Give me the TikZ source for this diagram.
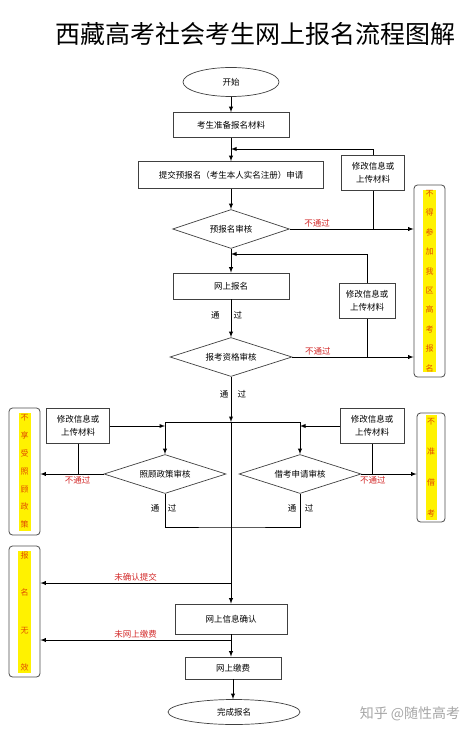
\documentclass[tikz,border=0pt]{standalone}
\usepackage{fontspec}
\setmainfont{Noto Sans CJK SC}
\usepackage{tikz}
\usetikzlibrary{shapes.geometric,calc,positioning}
\definecolor{failred}{RGB}{210,40,40}
\definecolor{stripred}{RGB}{225,75,0}

\begin{document}
\begin{tikzpicture}[x=1pt,y=-1pt,
	font=\fontsize{8.5}{13}\selectfont,
	box/.style={draw=black!75, line width=0.7pt, rectangle, inner sep=1pt, align=center},
	chk/.style={draw=black!75, line width=0.7pt, diamond, aspect=3, inner sep=1pt},
	term/.style={draw=black!75, line width=0.7pt, ellipse, inner sep=0pt},
	outcome/.style={draw=black!70, line width=0.8pt, rounded corners=3.5pt, inner sep=0pt},
	strip/.style={fill=yellow, text=stripred, inner sep=0pt, align=center, font=\fontsize{8}{#1}\selectfont},
	flow/.style={-latex, line width=0.9pt},
	plain/.style={line width=0.9pt},
	fail/.style={text=failred, inner sep=1.5pt, font=\fontsize{8.5}{10}\selectfont},
	pass/.style={inner sep=0pt}]
	\useasboundingbox (0,0) rectangle (474,735);
	\node[font=\fontsize{25}{28}\selectfont] (title) at (255,34) {西藏高考社会考生网上报名流程图解};
	\node[term, minimum width=96pt, minimum height=29pt] (start) at (231,82) {开始};
	\node[box, minimum width=116pt, minimum height=25pt] (prep) at (231,125) {考生准备报名材料};
	\node[box, minimum width=185pt, minimum height=27pt] (submit) at (231,175) {提交预报名（考生本人实名注册）申请};
	\node[box, minimum width=63pt, minimum height=35pt] (mod1) at (373,173) {修改信息或\\上传材料};
	\node[chk, minimum width=117pt, minimum height=39pt] (chk1) at (231,229) {预报名审核};
	\node[box, minimum width=116pt, minimum height=26pt] (net) at (231,286) {网上报名};
	\node[box, minimum width=56pt, minimum height=35pt] (mod2) at (367,301) {修改信息或\\上传材料};
	\node[chk, minimum width=122pt, minimum height=39pt] (chk2) at (231,357) {报考资格审核};
	\node[outcome, minimum width=31pt, minimum height=192pt] (noReg) at (429.5,281) {};
	\node[strip=19.4, minimum width=13pt, minimum height=181pt] (noRegTxt) at (noReg.center) {不\\得\\参\\加\\我\\区\\高\\考\\报\\名};

	\coordinate (fb1) at (231,149);
	\coordinate (fb2) at (231,254);
	\coordinate (jl) at (165,422);
	\coordinate (jc) at (231,422);
	\coordinate (jr) at (300,422);
	\coordinate (jb) at (231,527);
	\node[box, minimum width=63pt, minimum height=35pt] (mod3) at (78,426) {修改信息或\\上传材料};
	\node[box, minimum width=64pt, minimum height=35pt] (mod4) at (372,426) {修改信息或\\上传材料};
	\node[chk, minimum width=122pt, minimum height=39pt] (chkL) at (165,474) {照顾政策审核};
	\node[chk, minimum width=122pt, minimum height=39pt] (chkR) at (300,474) {借考申请审核};
	\node[outcome, minimum width=31pt, minimum height=127pt] (noPolicy) at (24.5,471.5) {};
	\node[strip=17.8, minimum width=12pt, minimum height=118pt] (noPolicyTxt) at (noPolicy.center) {不\\享\\受\\照\\顾\\政\\策};
	\node[outcome, minimum width=28pt, minimum height=109pt] (noBorrow) at (431,467.5) {};
	\node[strip=30.7, minimum width=11pt, minimum height=105pt] (noBorrowTxt) at (noBorrow.center) {不\\准\\借\\考};
	\node[pass] (passL) at (163.5,508) {通\hspace{8.5pt}过};
	\node[pass] (passR) at (300.5,508) {通\hspace{8.5pt}过};

	\coordinate (nc) at (231,583);
	\coordinate (np) at (231,640);
	\node[outcome, minimum width=31pt, minimum height=131pt] (void) at (24.5,611.5) {};
	\node[strip=37.3, minimum width=13pt, minimum height=122pt] (voidTxt) at (void.center) {报\\名\\无\\效};
	\node[box, minimum width=112pt, minimum height=30pt] (confirm) at (231,619) {网上信息确认};
	\node[box, minimum width=96pt, minimum height=22pt] (pay) at (233,668) {网上缴费};
	\node[term, minimum width=132pt, minimum height=25pt] (finish) at (234,712) {完成报名};
	\node[text=black!35, font=\fontsize{14}{16}\selectfont] (mark) at (410,714) {知乎 @随性高考};

	\draw[flow] (start) -- (prep);
	\draw[flow] (prep) -- (submit);
	\draw[flow] (submit) -- (chk1);
	\draw[flow] (mod1) |- (fb1);
	\draw[plain] (mod1) -- (mod1 |- chk1.east);
	\draw[flow] (chk1.east) -- (chk1.east -| noReg.west) node[fail, above, pos=0.22] {不通过};
	\draw[flow] (chk1) -- (net);
	\draw[flow] (mod2) |- (fb2);
	\draw[plain] (mod2) -- (mod2 |- chk2.east);
	\draw[flow] (net) -- node[pass, pos=0.42, xshift=-4.5pt] {通\hspace{14pt}过} (chk2);
	\draw[flow] (chk2.east) -- (chk2.east -| noReg.west) node[fail, above, pos=0.21] {不通过};
	\draw[flow] (chk2) -- node[pass, pos=0.39, xshift=2pt] {通\hspace{9.5pt}过} (jc);
	\draw[plain] (jl) -- (jr);
	\draw[flow] (jl) -- (chkL);
	\draw[flow] (jr) -- (chkR);
	\draw[flow] (mod3) -- (mod3 -| jl);
	\draw[flow] (mod4) -- (mod4 -| jr);
	\draw[plain] (mod3) -- (mod3 |- chkL);
	\draw[plain] (mod4) -- (mod4 |- chkR);
	\draw[flow] (chkL) -- (chkL -| noPolicy.east) node[fail, below, pos=0.41] {不通过};
	\draw[flow] (chkR) -- (chkR -| noBorrow.west) node[fail, below, pos=0.21] {不通过};
	\draw[plain] (chkL) |- (jb) -| (chkR);
	\draw[flow] (jc) -- (confirm);
	\draw[flow] (nc) -- (nc -| void.east) node[fail, above, pos=0.5] {未确认提交};
	\draw[flow] (confirm) -- (confirm |- pay.north);
	\draw[flow] (np) -- (np -| void.east) node[fail, above, pos=0.5] {未网上缴费};
	\draw[flow] (pay) -- (pay |- finish.north);
\end{tikzpicture}
\end{document}
